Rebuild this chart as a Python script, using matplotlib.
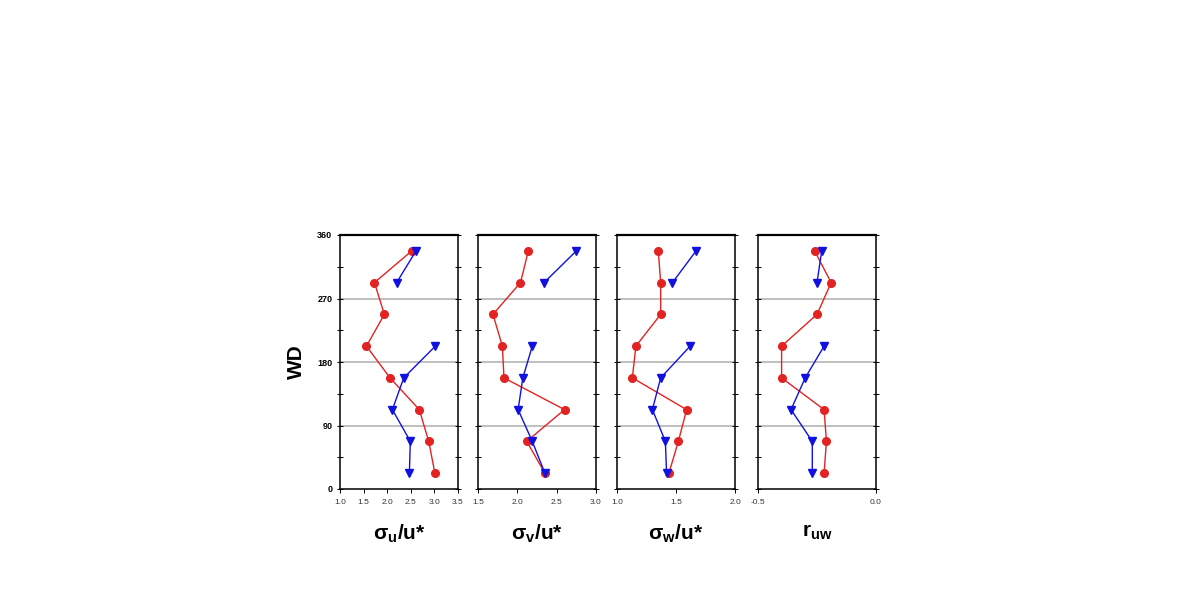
import numpy as np
import matplotlib
matplotlib.use("Agg")
import matplotlib.pyplot as plt

plt.rcParams['font.family'] = ['Liberation Sans', 'DejaVu Sans']
plt.rcParams['mathtext.fontset'] = 'custom'
plt.rcParams['mathtext.rm'] = 'Liberation Sans'
plt.rcParams['mathtext.bf'] = 'Liberation Sans:bold'

# wind direction sector centres
wd_red = [22.5, 67.5, 112.5, 157.5, 202.5, 247.5, 292.5, 337.5]
wd_blue = [22.5, 67.5, 112.5, 157.5, 202.5, np.nan, 292.5, 337.5]

su_red = [3.01, 2.88, 2.68, 2.06, 1.56, 1.94, 1.73, 2.52]
su_blue = [2.47, 2.49, 2.11, 2.35, 3.02, np.nan, 2.20, 2.61]
sv_red = [2.35, 2.12, 2.60, 1.83, 1.81, 1.69, 2.04, 2.14]
sv_blue = [2.35, 2.19, 2.01, 2.07, 2.19, np.nan, 2.34, 2.75]
sw_red = [1.44, 1.52, 1.59, 1.13, 1.16, 1.37, 1.37, 1.35]
sw_blue = [1.42, 1.41, 1.30, 1.37, 1.62, np.nan, 1.47, 1.67]
ruw_red = [-0.22, -0.21, -0.22, -0.40, -0.40, -0.25, -0.19, -0.26]
ruw_blue = [-0.27, -0.27, -0.36, -0.30, -0.22, np.nan, -0.25, -0.23]

panels = [
    (su_red, su_blue, (1.0, 3.5), [1.0, 1.5, 2.0, 2.5, 3.0, 3.5], '\u03c3$_\\mathbf{u}$/u*'),
    (sv_red, sv_blue, (1.5, 3.0), [1.5, 2.0, 2.5, 3.0], '\u03c3$_\\mathbf{v}$/u*'),
    (sw_red, sw_blue, (1.0, 2.0), [1.0, 1.5, 2.0], '\u03c3$_\\mathbf{w}$/u*'),
    (ruw_red, ruw_blue, (-0.5, 0.0), [-0.5, 0.0], 'r$_\\mathbf{uw}$'),
]

fig = plt.figure(figsize=(11.9, 5.97), dpi=100)
lefts = [340, 478, 617, 758]
red = '#e32222'
blue = '#1010e0'

for i, (r, b, xlim, xt, lab) in enumerate(panels):
    ax = fig.add_axes([lefts[i] / 1190, 1 - 489 / 597, 118 / 1190, 254 / 597])
    for yv in [90, 180, 270]:
        ax.axhline(yv, color='#b4b4b4', lw=1.2, zorder=0)
    ax.plot(r, wd_red, color=red, lw=1, marker='o', ms=5.5, mec=red, mfc=red)
    ax.plot(b, wd_blue, color=blue, lw=1, marker='v', ms=5.5, mec=blue, mfc=blue)
    ax.set_xlim(*xlim)
    ax.set_ylim(0, 360)
    ax.set_xticks(xt)
    ax.set_xticklabels(['%.1f' % v for v in xt], fontsize=6, color='#333333')
    ax.set_yticks(np.arange(0, 361, 45))
    if i == 0:
        ax.set_yticklabels(['0', '', '90', '', '180', '', '270', '', '360'],
                           fontsize=6.5, fontweight='bold')
        ax.set_ylabel('WD', fontsize=15, fontweight='bold', labelpad=8)
    else:
        ax.set_yticklabels([])
    ax.tick_params(axis='y', direction='inout', length=4, width=0.7,
                   left=True, right=True)
    ax.tick_params(axis='x', direction='out', length=3, width=0.7, pad=4)
    for s in ax.spines.values():
        s.set_linewidth(1.1)
    ax.spines['top'].set_linewidth(1.6)
    ax.set_xlabel(lab, fontsize=15, fontweight='bold', labelpad=12)

fig.savefig('out.png', dpi=100)
